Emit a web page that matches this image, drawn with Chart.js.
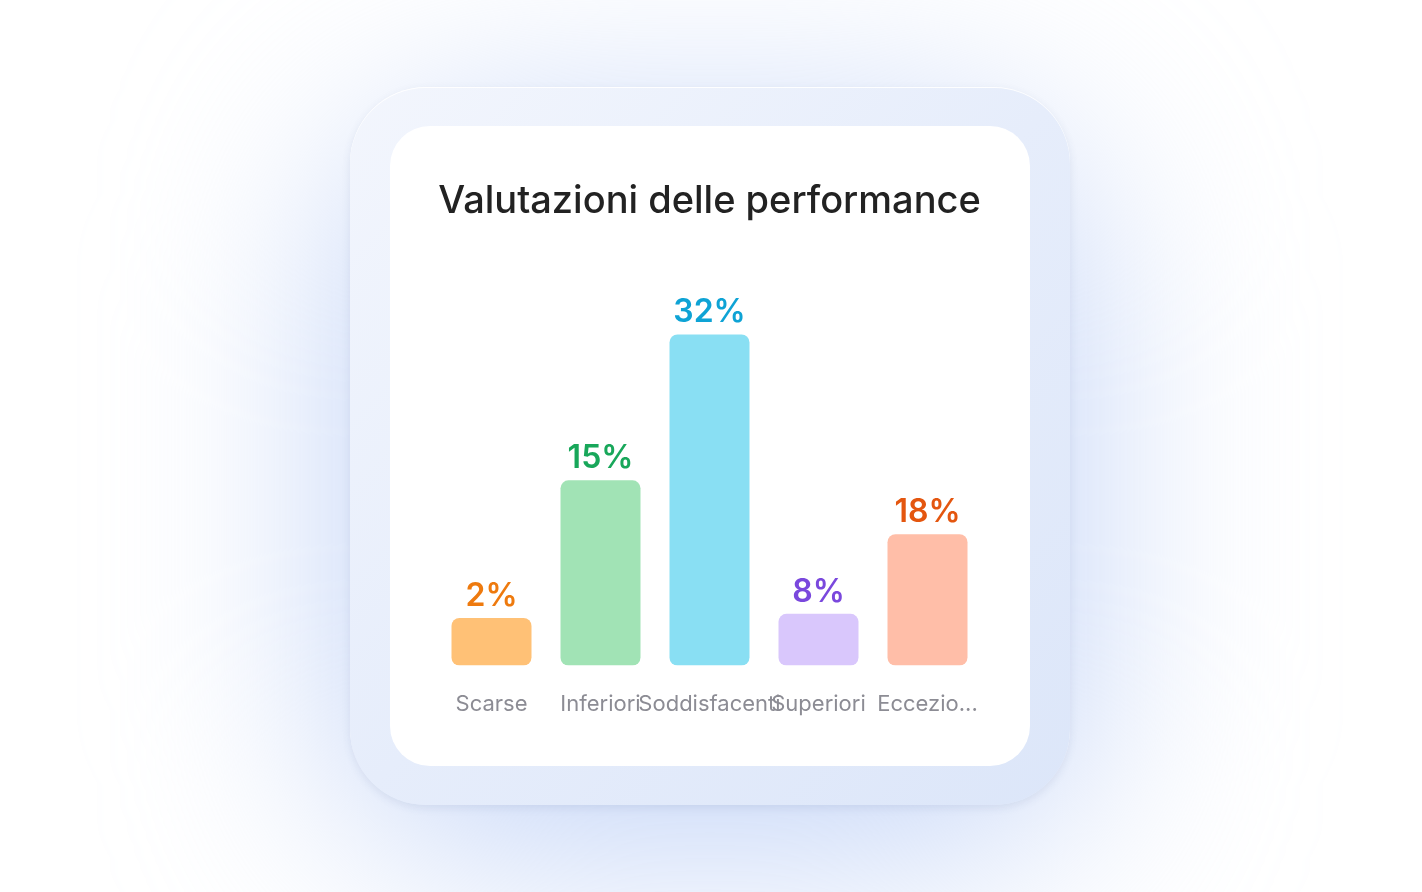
<!DOCTYPE html>
<html>
<head>
<meta charset="utf-8">
<script src="https://cdn.jsdelivr.net/npm/chart.js@4.4.1/dist/chart.umd.min.js"></script>
<style>
  html, body { margin: 0; padding: 0; width: 1422px; height: 892px; overflow: hidden; background: #ffffff; }
  .glow {
    position: absolute; left: 340px; top: 130px; width: 740px; height: 720px;
    border-radius: 140px;
    background: #c3d4f7;
    filter: blur(110px);
  }
  .frame {
    position: absolute; left: 350px; top: 87px; width: 720px; height: 718px;
    border-radius: 76px;
    background: linear-gradient(135deg, #f3f6fd 0%, #e6edfb 50%, #dce6f9 100%);
    box-shadow: 0 3px 8px rgba(60, 80, 130, 0.10), inset 0 1px 0 rgba(255,255,255,0.9);
  }
  .card {
    position: absolute; left: 390px; top: 126px; width: 640px; height: 640px;
    border-radius: 40px; background: #ffffff; overflow: hidden;
  }
  .card canvas { display: block; }
</style>
</head>
<body>
<div class="glow"></div>
<div class="frame"></div>
<div class="card">
  <canvas id="perfChart" width="640" height="640"></canvas>
</div>
<script>
// dati
const categories = ["Scarse", "Inferiori", "Soddisfacenti", "Superiori", "Eccezionali"];
const tickLabels = ["Scarse", "Inferiori", "Soddisfacenti", "Superiori", "Eccezio..."];
const barValues = [4.6, 17.9, 32, 5.0, 12.7];
const shareLabels = ["2%", "15%", "32%", "8%", "18%"];
const barColors = ["#FFC176", "#A1E3B5", "#89DFF3", "#D9C7FC", "#FFBEA8"];
const labelColors = ["#EE7A0E", "#18A75A", "#0EA3D5", "#7A48DD", "#E4560F"];

// etichette percentuali sopra le barre
const topLabels = {
  id: "topLabels",
  afterDatasetsDraw(chart) {
    const ctx = chart.ctx;
    const meta = chart.getDatasetMeta(0);
    ctx.save();
    ctx.font = "600 32px Inter, 'Noto Sans', sans-serif";
    ctx.textAlign = "center";
    ctx.textBaseline = "alphabetic";
    meta.data.forEach((bar, i) => {
      ctx.fillStyle = labelColors[i];
      ctx.fillText(shareLabels[i], bar.x, bar.y - 12);
    });
    ctx.restore();
  },
};

new Chart(document.getElementById("perfChart"), {
  type: "bar",
  data: {
    labels: categories,
    datasets: [
      {
        data: barValues,
        backgroundColor: barColors,
        borderRadius: 8,
        borderSkipped: false,
        barPercentage: 0.734,
        categoryPercentage: 1,
      },
    ],
  },
  options: {
    responsive: false,
    animation: false,
    devicePixelRatio: 1,
    layout: { padding: { left: 47, right: 48, top: 0, bottom: 22 } },
    plugins: {
      legend: { display: false },
      tooltip: { enabled: false },
      title: {
        display: true,
        text: "Valutazioni delle performance",
        color: "#222222",
        font: { family: "Inter, 'Noto Sans', sans-serif", size: 38, weight: "500", lineHeight: 1.2 },
        padding: { top: 53, bottom: 27 },
      },
    },
    scales: {
      x: {
        grid: { display: false, drawTicks: false },
        border: { display: false },
        ticks: {
          color: "#8C8C94",
          font: { family: "Inter, 'Noto Sans', sans-serif", size: 22, weight: "400", lineHeight: 1.2 },
          padding: 26,
          autoSkip: false,
          maxRotation: 0,
          minRotation: 0,
          callback: (value, index) => tickLabels[index],
        },
      },
      y: {
        display: false,
        min: 0,
        max: 40,
      },
    },
  },
  plugins: [topLabels],
});
</script>
</body>
</html>
